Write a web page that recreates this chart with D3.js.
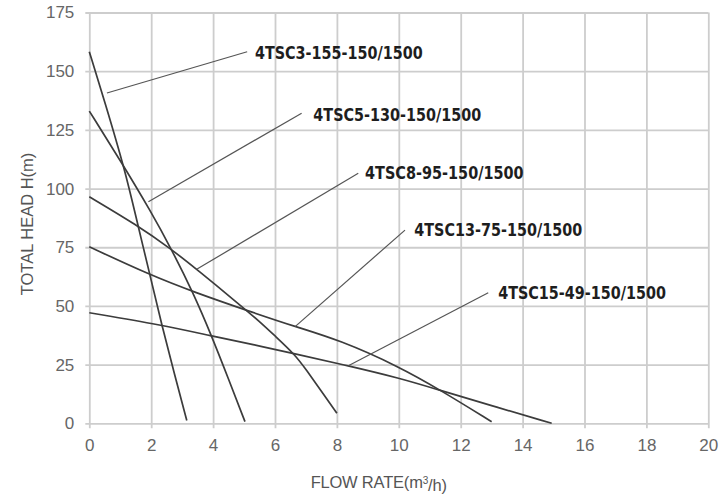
<!DOCTYPE html>
<html>
<head>
<meta charset="utf-8">
<script src="https://cdn.jsdelivr.net/npm/d3@7/dist/d3.min.js"></script>
<style>
  html, body { margin: 0; padding: 0; background: #fff; }
  svg { display: block; }
</style>
</head>
<body>
<svg id="chart" width="722" height="498"></svg>
<script>
// ---------------- data ----------------
const xTicks = [0, 2, 4, 6, 8, 10, 12, 14, 16, 18, 20];
const yTicks = [0, 25, 50, 75, 100, 125, 150, 175];

const seriesNames = [
  "4TSC3-155-150/1500",
  "4TSC5-130-150/1500",
  "4TSC8-95-150/1500",
  "4TSC13-75-150/1500",
  "4TSC15-49-150/1500"
];

// flow rate (m3/h) and total head (m)
const flowA = [0, 0.5, 1.15, 1.53, 1.96, 2.34, 2.75, 3.15];
const headA = [158.3, 137, 108, 86.6, 63.2, 41.9, 21, 1.2];

const flowB = [0, 1, 2, 2.66, 3.36, 3.95, 4.5, 5.03];
const headB = [133, 112, 90, 74, 55.5, 37.3, 18.8, 0.7];

const flowC = [0, 1.53, 2.66, 3.47, 4.87, 5.5, 6.0, 6.65, 7.02, 7.45, 8.0];
const headC = [96.5, 84.5, 74.1, 65.6, 50.4, 43.4, 37.2, 29.2, 22.6, 14.5, 4.3];

const flowD = [0, 1.96, 3.36, 5.35, 6.65, 8.1, 10.0, 11.3, 13.0];
const headD = [75.2, 63.2, 56, 46.9, 41.2, 35.4, 24.2, 14.5, 0.7];

const flowE = [0, 2.34, 3.95, 5.35, 6.65, 8.37, 10.04, 11.22, 13, 14.94];
const headE = [47.1, 41.9, 37.2, 33.4, 29.6, 24.5, 19.2, 14.5, 7.5, 0];

// annotation: leader start on curve (flow, head), leader end (flow, head), label start (flow, head)
const leaderFromFlow = [0.57, 1.91, 3.47, 6.65, 8.37];
const leaderFromHead = [140.7, 94.4, 65.6, 41.2, 24.5];
const leaderToFlow   = [5.10, 6.86, 8.69, 10.2, 12.89];
const leaderToHead   = [158.3, 132.1, 106.5, 82.3, 55.6];
const labelFlow      = [5.35, 7.24, 8.91, 10.5, 13.21];
const labelHead      = [157.6, 131.3, 106.5, 82.3, 55.6];

// ---------------- layout ----------------
const margin = { left: 89.3, top: 12.5, right: 722 - 708.3, bottom: 498 - 423.3 };
const W = 722, H = 498;
const width = W - margin.left - margin.right;
const height = H - margin.top - margin.bottom;

const svg = d3.select("#chart");
const g = svg.append("g").attr("transform", `translate(${margin.left},${margin.top})`);

const x = d3.scaleLinear().domain([0, 20]).range([0, width]);
const y = d3.scaleLinear().domain([0, 175]).range([height, 0]);

const gridColor = "#cdcdcd";
const tickFont = "'Liberation Sans', Arial, Helvetica, sans-serif";
const labelCharWidth = 9.33;

// x axis + vertical gridlines (extend 5px below baseline)
const xAxis = g.append("g")
  .attr("transform", `translate(0,${height + 5})`)
  .call(d3.axisBottom(x).tickValues(xTicks).tickSize(-(height + 5)).tickPadding(11).tickFormat(d3.format("d")));
xAxis.select(".domain").remove();
xAxis.selectAll("line").attr("stroke", gridColor).attr("stroke-width", 1.8);
xAxis.selectAll("text").attr("fill", "#666").style("font-family", tickFont).style("font-size", "17px");

// y axis + horizontal gridlines (extend 4px left)
const yAxis = g.append("g")
  .attr("transform", `translate(-4,0)`)
  .call(d3.axisLeft(y).tickValues(yTicks).tickSize(-(width + 4)).tickPadding(11).tickFormat(d3.format("d")));
yAxis.select(".domain").remove();
yAxis.selectAll("line").attr("stroke", gridColor).attr("stroke-width", 1.8);
yAxis.selectAll("text").attr("fill", "#666").style("font-family", tickFont).style("font-size", "17px");

// curves
const flows = [flowA, flowB, flowC, flowD, flowE];
const heads = [headA, headB, headC, headD, headE];
const curves = seriesNames.map((name, i) => ({
  name,
  pts: flows[i].map((f, j) => [f, heads[i][j]])
}));

const line = d3.line()
  .x(d => x(d[0]))
  .y(d => y(d[1]))
  .curve(d3.curveBasis);

g.append("g").selectAll("path")
  .data(curves)
  .join("path")
  .attr("d", d => line(d.pts))
  .attr("fill", "none")
  .attr("stroke", "#3c3c3c")
  .attr("stroke-width", 1.7);

// leader lines
g.append("g").selectAll("line")
  .data(seriesNames.map((n, i) => i))
  .join("line")
  .attr("x1", i => x(leaderFromFlow[i]))
  .attr("y1", i => y(leaderFromHead[i]))
  .attr("x2", i => x(leaderToFlow[i]))
  .attr("y2", i => y(leaderToHead[i]))
  .attr("stroke", "#555")
  .attr("stroke-width", 1.2);

// labels
g.append("g").selectAll("text")
  .data(seriesNames.map((n, i) => i))
  .join("text")
  .attr("x", i => x(labelFlow[i]))
  .attr("y", i => y(labelHead[i]))
  .attr("dy", "0.36em")
  .attr("fill", "#1e1e1e")
  .attr("textLength", i => seriesNames[i].length * labelCharWidth)
  .attr("lengthAdjust", "spacingAndGlyphs")
  .style("font-family", "'DejaVu Sans Condensed', 'DejaVu Sans', 'Liberation Sans', Arial, sans-serif")
  .style("font-stretch", "condensed")
  .style("font-weight", "bold")
  .style("font-size", "17px")
  .text(i => seriesNames[i]);

// axis titles
const xt = svg.append("text")
  .attr("x", margin.left + x(9.35))
  .attr("y", 488)
  .attr("text-anchor", "middle")
  .attr("fill", "#555")
  .style("font-family", tickFont)
  .style("font-size", "16.5px")
  .style("letter-spacing", "-0.2px");
xt.append("tspan").text("FLOW RATE(m");
xt.append("tspan").text("3").attr("dy", "-0.45em").style("font-size", "10px");
xt.append("tspan").text("/h)").attr("dy", "0.45em");

svg.append("text")
  .attr("transform", `translate(33,224) rotate(-90)`)
  .attr("text-anchor", "middle")
  .attr("fill", "#555")
  .style("font-family", tickFont)
  .style("font-size", "16.5px")
  .text("TOTAL HEAD H(m)");
</script>
</body>
</html>
